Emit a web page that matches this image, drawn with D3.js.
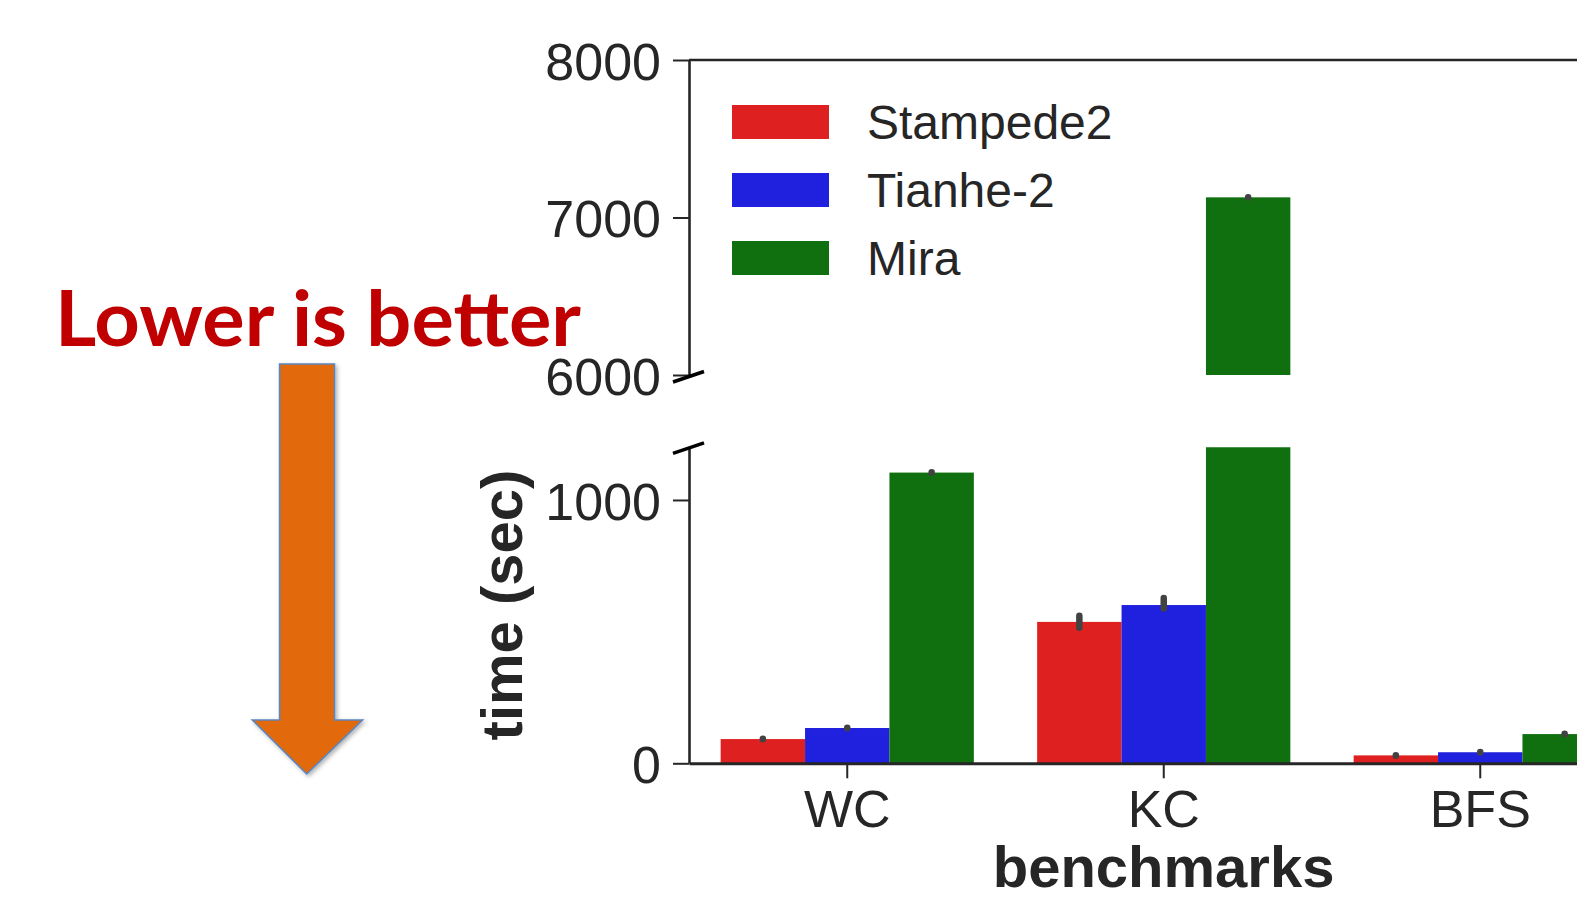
<!DOCTYPE html>
<html><head><meta charset="utf-8">
<script src="https://cdn.jsdelivr.net/npm/d3@7/dist/d3.min.js"></script>
<style>body{margin:0;background:#fff;overflow:hidden}svg{display:block}</style>
</head><body>
<script>
// ---- data ----
const categories = ["WC", "KC", "BFS"];
const seriesNames = ["Stampede2", "Tianhe-2", "Mira"];
const stampede2 = [92, 537, 30];
const tianhe2 = [134, 601, 42];
const mira = [1104, 7128, 111];
const stampede2Err = [[91, 93], [515, 560], [29, 31]];
const tianhe2Err = [[133, 135], [588, 628], [41, 43]];
const miraErr = [[1103, 1105], [7127, 7129], [110, 112]];
const topTicks = [6000, 7000, 8000];
const bottomTicks = [0, 1000];
const colors = ["#df2020", "#2020df", "#107010"];

const W = 1577, H = 900;
const ink = "#262626";
const font = "'Liberation Sans', Arial, sans-serif";

const svg = d3.select("body").append("svg").attr("width", W).attr("height", H);
const defs = svg.append("defs");

// layout
const x0 = 689, step = 316.5;
const x = d3.scaleBand().domain(categories).range([x0, x0 + step * categories.length])
  .paddingInner(0.2).paddingOuter(0.1);
const xs = d3.scaleBand().domain(seriesNames).range([0, x.bandwidth()]);
const yTop = d3.scaleLinear().domain([6000, 8000]).range([375, 60]);
const yBot = d3.scaleLinear().domain([0, 1200]).range([763.3, 447.3]);

const rows = [];
const vals = [stampede2, tianhe2, mira];
const errs = [stampede2Err, tianhe2Err, miraErr];
categories.forEach((c, i) => seriesNames.forEach((s, j) => {
  rows.push({cat: c, ser: s, v: vals[j][i], e: errs[j][i], col: colors[j]});
}));

function panel(y, id) {
  const [r0, r1] = y.range();
  defs.append("clipPath").attr("id", id).append("rect")
    .attr("x", x0).attr("y", r1).attr("width", W).attr("height", r0 - r1);
  const g = svg.append("g").attr("clip-path", `url(#${id})`);
  g.selectAll("rect.bar").data(rows).join("rect").attr("class", "bar")
    .attr("x", d => x(d.cat) + xs(d.ser))
    .attr("width", xs.bandwidth())
    .attr("y", d => y(Math.max(d.v, y.domain()[0])))
    .attr("height", d => Math.max(0, y(y.domain()[0]) - y(Math.max(d.v, y.domain()[0]))))
    .attr("fill", d => d.col);
  g.selectAll("line.err").data(rows).join("line").attr("class", "err")
    .attr("x1", d => x(d.cat) + xs(d.ser) + xs.bandwidth() / 2)
    .attr("x2", d => x(d.cat) + xs(d.ser) + xs.bandwidth() / 2)
    .attr("y1", d => y(d.e[0])).attr("y2", d => y(d.e[1]))
    .attr("stroke", "#424242").attr("stroke-width", 6.5).attr("stroke-linecap", "round");
}
panel(yTop, "clipTop");
panel(yBot, "clipBot");

function styleAxis(g, fs) {
  g.selectAll("path.domain").attr("stroke", ink).attr("stroke-width", 2.6);
  g.selectAll(".tick line").attr("stroke", ink).attr("stroke-width", 2);
  g.selectAll(".tick text").attr("fill", ink).style("font-family", font).style("font-size", fs + "px");
}

// y axes
const axTop = svg.append("g").attr("transform", `translate(${x0},0)`)
  .call(d3.axisLeft(yTop).tickValues(topTicks).tickFormat(d3.format("d")).tickSize(16).tickPadding(12).tickSizeOuter(0));
styleAxis(axTop, 52);
axTop.selectAll(".tick text").attr("dy", "0.37em");
const axBot = svg.append("g").attr("transform", `translate(${x0},0)`)
  .call(d3.axisLeft(yBot).tickValues(bottomTicks).tickFormat(d3.format("d")).tickSize(16).tickPadding(12).tickSizeOuter(0));
styleAxis(axBot, 52);
axBot.selectAll(".tick text").attr("dy", "0.37em");

// top spine
svg.append("line").attr("x1", x0).attr("x2", W + 100).attr("y1", yTop.range()[1]).attr("y2", yTop.range()[1])
  .attr("stroke", ink).attr("stroke-width", 2.6);

// x axis
const axX = svg.append("g").attr("transform", `translate(0,${yBot.range()[0]})`)
  .call(d3.axisBottom(x).tickSize(15).tickPadding(12).tickSizeOuter(0));
styleAxis(axX, 52);
axX.select("path.domain").attr("stroke-width", 3);

// break marks
[[x0, yTop.range()[0] + 1.5], [x0, yBot.range()[1] + 0.5]].forEach(([cx, cy]) => {
  svg.append("line").attr("x1", cx - 16).attr("y1", cy + 5.5).attr("x2", cx + 15).attr("y2", cy - 5)
    .attr("stroke", "#000").attr("stroke-width", 3.5);
});

// axis titles
svg.append("text").attr("transform", "translate(522,605) rotate(-90)").attr("text-anchor", "middle")
  .style("font-family", font).style("font-weight", "bold").style("font-size", "58px").attr("fill", ink)
  .text("time (sec)");
svg.append("text").attr("x", 1163.6).attr("y", 887).attr("text-anchor", "middle")
  .style("font-family", font).style("font-weight", "bold").style("font-size", "58px").attr("fill", ink)
  .text("benchmarks");

// legend
const leg = svg.append("g");
seriesNames.forEach((s, j) => {
  const yy = 105 + j * 68;
  leg.append("rect").attr("x", 732).attr("y", yy).attr("width", 97).attr("height", 34).attr("fill", colors[j]);
  leg.append("text").attr("x", 867).attr("y", yy + 17).attr("dy", "0.36em")
    .style("font-family", font).style("font-size", "48px").attr("fill", ink).text(s);
});

// annotation
svg.append("text").attr("x", 55).attr("y", 346)
  .attr("textLength", 526).attr("lengthAdjust", "spacingAndGlyphs")
  .style("font-family", "Lato, 'Open Sans', sans-serif").style("font-weight", "bold").style("font-size", "77px")
  .attr("fill", "#c00000").text("Lower is better");

const f = defs.append("filter").attr("id", "sh").attr("x", "-20%").attr("y", "-5%").attr("width", "150%").attr("height", "115%");
f.append("feDropShadow").attr("dx", 2).attr("dy", 2).attr("stdDeviation", 2).attr("flood-color", "#000").attr("flood-opacity", 0.3);
const arrowPts = [[279.6, 364], [334.5, 364], [334.5, 720], [362.5, 720], [306.7, 774], [252.4, 720], [279.6, 720]];
svg.append("path").attr("d", d3.line()(arrowPts) + "Z")
  .attr("fill", "#e26b0a").attr("stroke", "#5b86c0").attr("stroke-width", 1.6).attr("filter", "url(#sh)");
</script>
</body></html>
